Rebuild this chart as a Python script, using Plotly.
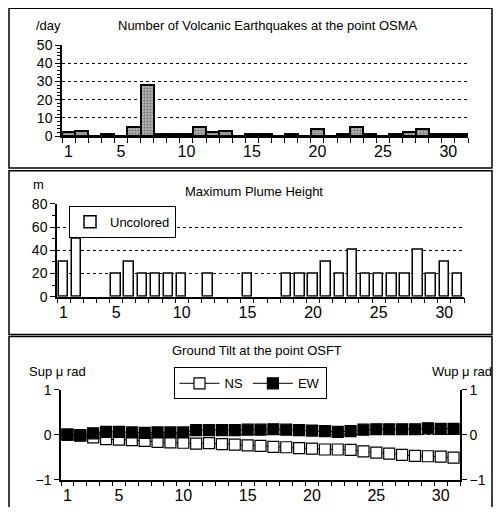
import plotly.graph_objects as go

days = list(range(1, 32))
quakes = [2, 3, 0, 1, 0, 5, 28, 1, 1, 1, 5, 2, 3, 0, 1, 1, 0, 1, 0, 4, 0, 1, 5, 1, 0, 1, 2, 4, 1, 1, 1]
plume = [30, 50, None, None, 20, 30, 20, 20, 20, 20, None, 20, None, None, 20, None, None,
         20, 20, 20, 30, 20, 40, 20, 20, 20, 20, 40, 20, 30, 20]
tilt_ns = [0, -0.02, -0.06, -0.10, -0.11, -0.12, -0.14, -0.16, -0.17, -0.18, -0.20, -0.19, -0.21,
           -0.22, -0.24, -0.25, -0.27, -0.28, -0.30, -0.31, -0.33, -0.33, -0.34, -0.37, -0.40,
           -0.42, -0.45, -0.47, -0.48, -0.49, -0.51]
tilt_ew = [0, -0.01, 0.03, 0.06, 0.06, 0.05, 0.04, 0.05, 0.05, 0.05, 0.10, 0.10, 0.10, 0.10,
           0.11, 0.11, 0.12, 0.11, 0.10, 0.09, 0.08, 0.06, 0.08, 0.11, 0.12, 0.12, 0.12, 0.12,
           0.14, 0.13, 0.13]
xtick_vals = [1, 5, 10, 15, 20, 25, 30]

# page is 501x515 with the default 8px body margin around the figure
PAGE_M = 8
W, H = 501 - 2 * PAGE_M, 515 - 2 * PAGE_M
FONT = "Liberation Sans, Noto Sans CJK JP, Arial"

def px(x):
    return (x - PAGE_M) / W

def py(y):
    return 1 - (y - PAGE_M) / H

fig = go.Figure()

fig.add_trace(go.Bar(
    x=days, y=quakes, xaxis="x", yaxis="y", showlegend=False,
    width=1.0,
    marker=dict(color="#c0c0c0", line=dict(color="black", width=2),
                pattern=dict(shape=".", fgcolor="#3a3a3a", bgcolor="#c0c0c0", size=3, solidity=0.5)),
))

fig.add_trace(go.Bar(
    x=days, y=plume, xaxis="x2", yaxis="y2", name="Uncolored", legend="legend",
    width=0.72,
    marker=dict(color="white", line=dict(color="black", width=1.5)),
))

fig.add_trace(go.Scatter(
    x=days, y=tilt_ns, xaxis="x3", yaxis="y3", name="NS", legend="legend2",
    mode="lines+markers", line=dict(color="black", width=1),
    marker=dict(symbol="square", size=11, color="white", line=dict(color="black", width=1.2)),
))
fig.add_trace(go.Scatter(
    x=days, y=tilt_ew, xaxis="x3", yaxis="y3", name="EW", legend="legend2",
    mode="lines+markers", line=dict(color="black", width=1),
    marker=dict(symbol="square", size=11, color="black", line=dict(color="black", width=1.2)),
))

def xaxis(domain, anchor):
    return dict(
        domain=domain, anchor=anchor, range=[0.5, 31.5],
        tickmode="array", tickvals=xtick_vals, ticks="", showgrid=False, zeroline=False,
        showline=True, linecolor="black", linewidth=1.5,
        tickfont=dict(size=16, color="black", family=FONT),
        minor=dict(tickmode="linear", tick0=0.5, dtick=1, ticks="outside", ticklen=5,
                   tickcolor="black", tickwidth=1, showgrid=False),
    )

def yaxis(domain, anchor, rng, dtick, mdtick):
    return dict(
        domain=domain, anchor=anchor, range=rng, tickmode="linear", tick0=0, dtick=dtick,
        ticks="outside", ticklen=5, tickcolor="black", showline=True, linecolor="black", linewidth=1.5,
        showgrid=True, gridcolor="black", griddash="dot", gridwidth=1, zeroline=False,
        tickfont=dict(size=14, color="black", family=FONT),
        minor=dict(tickmode="linear", tick0=0, dtick=mdtick, ticks="outside", ticklen=3,
                   tickcolor="black", showgrid=False),
    )

fig.update_layout(
    width=W, height=H,
    margin=dict(l=0, r=0, t=0, b=0),
    paper_bgcolor="white", plot_bgcolor="white",
    font=dict(family=FONT, color="black", size=12),
    bargap=0,
    xaxis=xaxis([px(62), px(468)], "y"),
    yaxis=yaxis([py(132), py(38)], "x", [0, 50], 10, 2),
    xaxis2=xaxis([px(57), px(464)], "y2"),
    yaxis2=yaxis([py(298), py(202)], "x2", [0, 80], 20, 10),
    xaxis3=xaxis([px(61), px(460)], "y3"),
    yaxis3=dict(
        domain=[py(487), py(394)], anchor="x3", range=[-1, 1], tickmode="array",
        tickvals=[-1, 0, 1], ticktext=["\u22121", "0", "1"], ticks="outside", ticklen=5,
        tickcolor="black", showline=True, linecolor="black", linewidth=1.5,
        showgrid=True, gridcolor="black", griddash="dot", zeroline=False,
        tickfont=dict(size=14, color="black", family=FONT),
    ),
    yaxis4=dict(
        overlaying="y3", side="right", anchor="x3", range=[-1, 1], tickmode="array",
        tickvals=[-1, 0, 1], ticktext=["\u22121", "0", "1"], ticks="outside", ticklen=5,
        tickcolor="black", showline=True, linecolor="black", linewidth=1.5,
        showgrid=False, zeroline=False,
        tickfont=dict(size=14, color="black", family=FONT),
    ),
    legend=dict(
        x=px(69), y=py(204), xanchor="left", yanchor="top",
        bordercolor="black", borderwidth=1, bgcolor="white",
        font=dict(size=13, family=FONT), itemwidth=30,
    ),
    legend2=dict(
        x=px(250), y=py(371), xanchor="center", yanchor="top", orientation="h",
        bordercolor="black", borderwidth=1, bgcolor="white",
        font=dict(size=13, family=FONT), itemwidth=40,
    ),
)

# invisible trace to activate yaxis4
fig.add_trace(go.Scatter(x=[None], y=[None], xaxis="x3", yaxis="y4", showlegend=False, hoverinfo="skip"))

annots = [
    ("/day", 48, 18),
    ("Number of Volcanic Earthquakes at the point OSMA", 267, 18),
    ("m", 39, 182),
    ("Maximum Plume Height", 254, 189),
    ("Ground Tilt at the point OSFT", 257, 354),
    ("Sup \u03bc rad", 57, 375),
    ("Wup \u03bc rad", 462, 375),
]
for text, x, y in annots:
    fig.add_annotation(text=text, x=px(x), y=py(y), xref="paper", yref="paper",
                       showarrow=False, xanchor="center", yanchor="middle",
                       font=dict(size=13, family=FONT, color="black"))

bx0, bx1 = 1.0 / W, 1 - 1.0 / W
for (y0, y1) in [(0, 165), (168, 337), (339, 530)]:
    fig.add_shape(type="rect", xref="paper", yref="paper",
                  x0=bx0, x1=bx1, y0=py(y1), y1=py(y0),
                  line=dict(color="black", width=1.5), fillcolor="rgba(0,0,0,0)", layer="below")

fig.write_html("out.html", config={"displayModeBar": False})
